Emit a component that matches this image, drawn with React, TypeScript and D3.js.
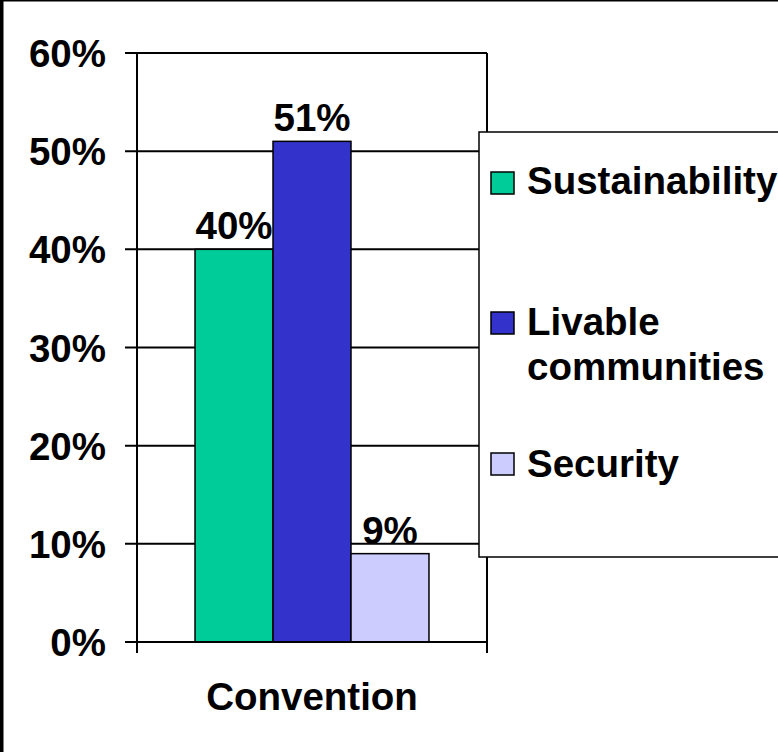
import React from "react";
import * as d3 from "d3";

const categories = ["Convention"];
const seriesNames = ["Sustainability", "Livable communities", "Security"];
const seriesValues = [0.4, 0.51, 0.09];
const seriesColors = ["#00CC99", "#3333CC", "#CCCCFF"];
const legendLines = [["Sustainability"], ["Livable", "communities"], ["Security"]];
const yTicks = [0, 0.1, 0.2, 0.3, 0.4, 0.5, 0.6];

const W = 778;
const H = 752;
const FONT = "'Liberation Sans', Arial, Helvetica, sans-serif";
const FS = 38.5;

export default function App() {
  const plotLeft = 137;
  const plotRight = 487;
  const plotTop = 53;
  const plotBottom = 642;

  const y = d3.scaleLinear().domain([0, 0.6]).range([plotBottom, plotTop]);
  const x = d3
    .scaleBand<string>()
    .domain(categories)
    .range([plotLeft, plotRight])
    .paddingInner(0)
    .paddingOuter(0.248);
  const xs = d3
    .scaleBand<string>()
    .domain(seriesNames)
    .range([0, x.bandwidth()])
    .padding(0);
  const fmt = d3.format(".0%");

  const legendX = 479;
  const legendTop = 132;
  const legendBottom = 557;
  const swatchTops = [172, 312, 453];
  const textBaselines = [194, 335, 477];

  return (
    <svg
      width={W}
      height={H}
      style={{ position: "absolute", left: 0, top: 0, background: "#fff" }}
      fontFamily={FONT}
      fontWeight="bold"
    >
      <rect x={0} y={0} width={W} height={H} fill="#fff" />
      {/* frame */}
      <rect x={0} y={0} width={3.5} height={H} fill="#000" />
      <rect x={0} y={0} width={W} height={1.5} fill="#000" />

      {/* gridlines */}
      {yTicks.map((t) => (
        <line
          key={"g" + t}
          x1={125}
          x2={plotRight}
          y1={y(t)}
          y2={y(t)}
          stroke="#000"
          strokeWidth={2}
        />
      ))}
      {/* plot right border */}
      <line x1={plotRight} x2={plotRight} y1={plotTop} y2={plotBottom + 11} stroke="#000" strokeWidth={2} />
      {/* y axis */}
      <line x1={plotLeft} x2={plotLeft} y1={plotTop} y2={plotBottom + 11} stroke="#000" strokeWidth={2} />

      {/* bars */}
      {categories.map((c) =>
        seriesNames.map((s, i) => {
          const bx = (x(c) ?? 0) + (xs(s) ?? 0);
          const by = y(seriesValues[i]);
          return (
            <g key={c + s}>
              <rect
                x={bx}
                y={by}
                width={xs.bandwidth()}
                height={plotBottom - by}
                fill={seriesColors[i]}
                stroke="#000"
                strokeWidth={1.5}
              />
              <text
                x={bx + xs.bandwidth() / 2}
                y={by - 10}
                textAnchor="middle"
                fontSize={FS}
                fill="#000"
              >
                {fmt(seriesValues[i])}
              </text>
            </g>
          );
        })
      )}

      {/* x axis */}
      <line x1={plotLeft - 12} x2={plotRight} y1={plotBottom} y2={plotBottom} stroke="#000" strokeWidth={2} />

      {/* y tick labels */}
      {yTicks.map((t) => (
        <text key={"l" + t} x={106} y={y(t) + 14} textAnchor="end" fontSize={FS} fill="#000">
          {fmt(t)}
        </text>
      ))}

      {/* category label */}
      {categories.map((c) => (
        <text
          key={"c" + c}
          x={(x(c) ?? 0) + x.bandwidth() / 2}
          y={710}
          textAnchor="middle"
          fontSize={FS}
          fill="#000"
        >
          {c}
        </text>
      ))}

      {/* legend */}
      <rect
        x={legendX}
        y={legendTop}
        width={W - legendX + 10}
        height={legendBottom - legendTop}
        fill="#fff"
        stroke="#000"
        strokeWidth={1.5}
      />
      {seriesNames.map((s, i) => (
        <g key={"lg" + s}>
          <rect
            x={491}
            y={swatchTops[i]}
            width={23}
            height={22}
            fill={seriesColors[i]}
            stroke="#000"
            strokeWidth={1.5}
          />
          <text x={527} y={textBaselines[i]} fontSize={FS} fill="#000">
            {legendLines[i].map((ln, j) => (
              <tspan key={j} x={527} dy={j === 0 ? 0 : 45}>
                {ln}
              </tspan>
            ))}
          </text>
        </g>
      ))}
    </svg>
  );
}
